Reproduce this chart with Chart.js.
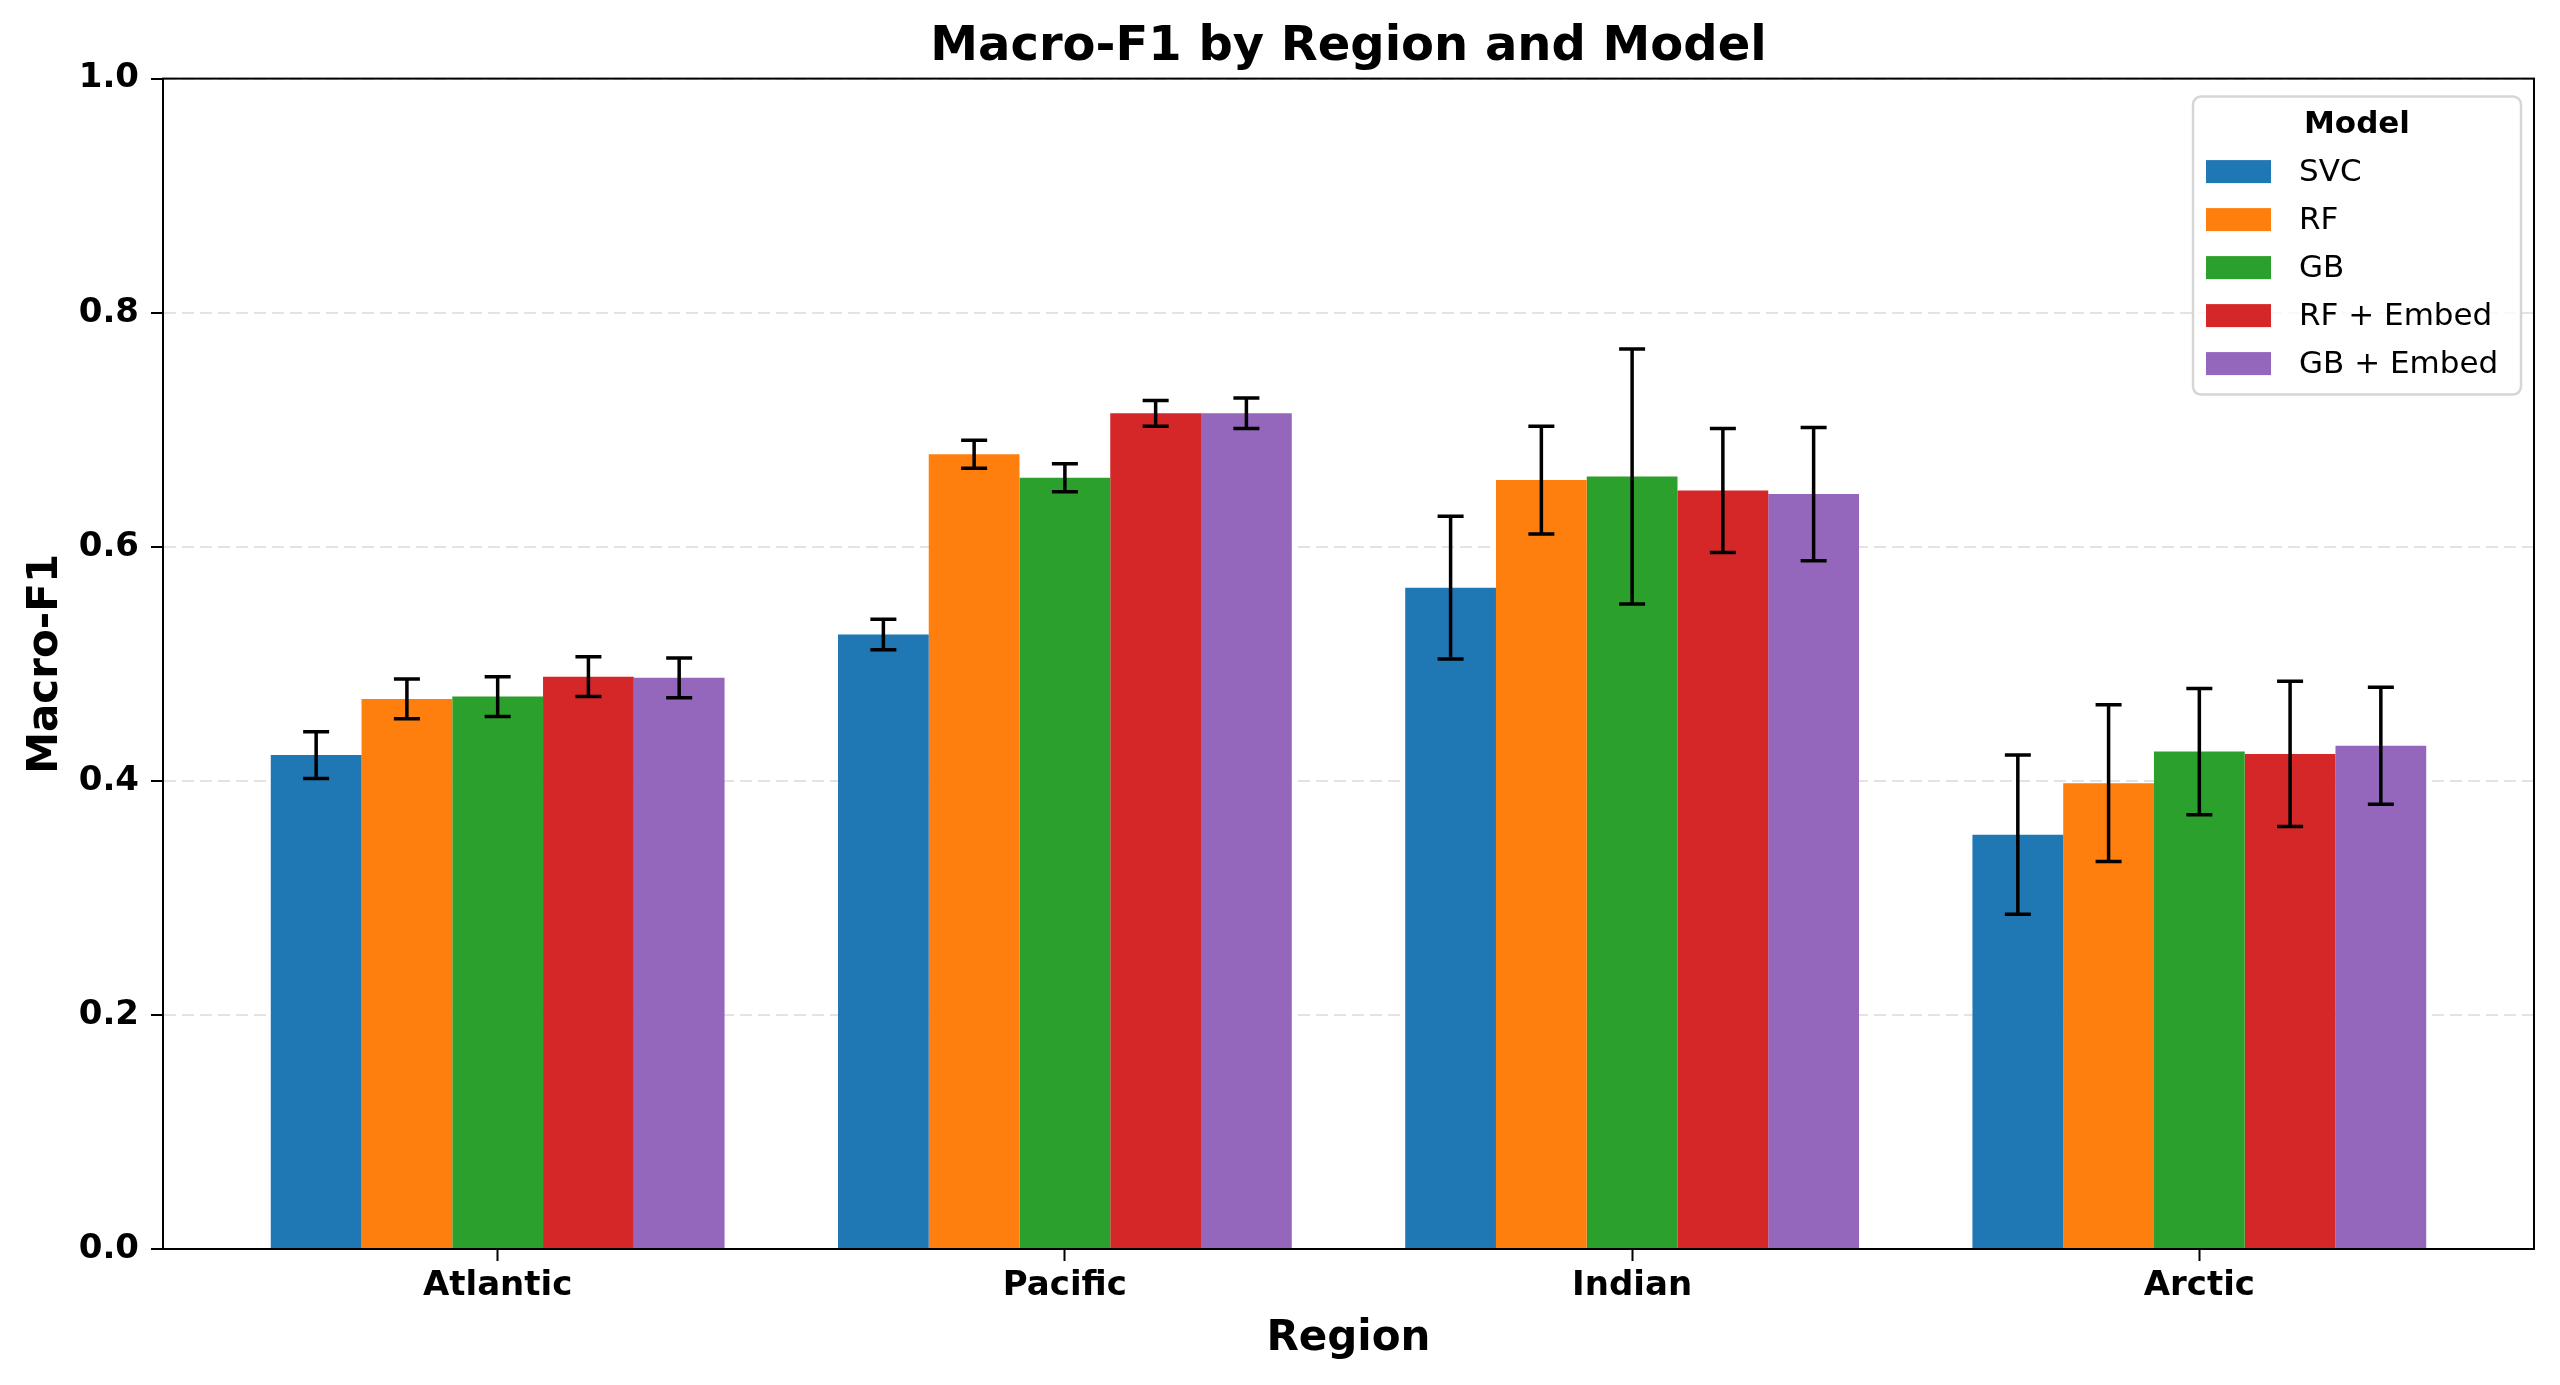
<!DOCTYPE html>
<html lang="en">
  <head>
    <meta charset="utf-8" />
    <title>Macro-F1 by Region and Model</title>
    <style>
      html, body { margin: 0; padding: 0; background: #fff; }
      #wrap { width: 2560px; height: 1385px; }
    </style>
  </head>
  <body>
    <div id="wrap">
      <canvas id="canvas"></canvas>
    </div>

    <script src="https://cdn.jsdelivr.net/npm/chart.js"></script>

    <script>
      const regions = ["Atlantic", "Pacific", "Indian", "Arctic"];
      const models = ["SVC", "RF", "GB", "RF + Embed", "GB + Embed"];
      const colors = ["#1f77b4", "#ff7f0e", "#2ca02c", "#d62728", "#9467bd"];

      // mean Macro-F1 per region, one array per model
      const svc = [0.422, 0.525, 0.565, 0.354];
      const rf = [0.470, 0.679, 0.657, 0.398];
      const gb = [0.472, 0.659, 0.660, 0.425];
      const rfEmbed = [0.489, 0.714, 0.648, 0.423];
      const gbEmbed = [0.488, 0.714, 0.645, 0.430];

      // error bar half-widths
      const svcErr = [0.020, 0.013, 0.061, 0.068];
      const rfErr = [0.017, 0.012, 0.046, 0.067];
      const gbErr = [0.017, 0.012, 0.109, 0.054];
      const rfEmbedErr = [0.017, 0.011, 0.053, 0.062];
      const gbEmbedErr = [0.017, 0.013, 0.057, 0.050];

      const yTicks = [0, 0.2, 0.4, 0.6, 0.8, 1.0];

      const series = [svc, rf, gb, rfEmbed, gbEmbed];
      const errors = [svcErr, rfErr, gbErr, rfEmbedErr, gbEmbedErr];

      const FONT = "'DejaVu Sans', sans-serif";

      const errorBars = {
        id: "errorBars",
        afterDatasetsDraw(chart) {
          const y = chart.scales.y;
          const c = chart.ctx;
          c.save();
          c.strokeStyle = "#000";
          c.lineWidth = 3.5;
          chart.data.datasets.forEach((ds, i) => {
            const meta = chart.getDatasetMeta(i);
            meta.data.forEach((bar, j) => {
              const v = ds.data[j].y;
              const e = errors[i][j];
              const top = y.getPixelForValue(v + e);
              const bot = y.getPixelForValue(v - e);
              c.beginPath();
              c.moveTo(bar.x, top);
              c.lineTo(bar.x, bot);
              c.moveTo(bar.x - 13, top);
              c.lineTo(bar.x + 13, top);
              c.moveTo(bar.x - 13, bot);
              c.lineTo(bar.x + 13, bot);
              c.stroke();
            });
          });
          c.restore();
        },
      };

      // centre the title over the plot area, like an axes title
      const titleOverPlot = {
        id: "titleOverPlot",
        afterLayout(chart) {
          const t = chart.titleBlock;
          const a = chart.chartArea;
          if (!t) return;
          t.left = a.left;
          t.right = a.right;
          t.width = a.right - a.left;
        },
      };

      // axes frame + legend box drawn on top
      const frameAndLegend = {
        id: "frameAndLegend",
        afterDraw(chart) {
          const a = chart.chartArea;
          const c = chart.ctx;
          c.save();
          c.strokeStyle = "#000";
          c.lineWidth = 2;
          c.strokeRect(a.left, a.top, a.right - a.left, a.bottom - a.top);

          const w = 328, h = 298;
          const bx = a.right - 13 - w;
          const by = a.top + 18;
          c.beginPath();
          c.roundRect(bx, by, w, h, 8);
          c.fillStyle = "rgba(255,255,255,0.8)";
          c.fill();
          c.strokeStyle = "#d6d6d6";
          c.lineWidth = 2.5;
          c.stroke();

          c.fillStyle = "#000";
          c.textBaseline = "middle";
          c.textAlign = "center";
          c.font = "bold 31px " + FONT;
          c.fillText("Model", bx + w / 2, by + 28);

          c.textAlign = "left";
          c.font = "31px " + FONT;
          chart.data.datasets.forEach((ds, i) => {
            const ry = by + 75 + i * 48;
            c.fillStyle = ds.backgroundColor;
            c.fillRect(bx + 13, ry - 11.5, 65, 23);
            c.fillStyle = "#000";
            c.fillText(ds.label, bx + 106, ry + 1);
          });
          c.restore();
        },
      };

      new Chart(document.getElementById("canvas"), {
        type: "bar",
        data: {
          datasets: models.map((m, i) => ({
            label: m,
            data: regions.map((r, j) => ({ x: j, y: series[i][j] })),
            backgroundColor: colors[i],
            borderWidth: 0,
            barPercentage: 1.0,
            categoryPercentage: 0.8,
          })),
        },
        options: {
          responsive: true,
          maintainAspectRatio: false,
          animation: false,
          devicePixelRatio: 1,
          layout: { padding: { left: 0, right: 26, top: 0, bottom: 0 } },
          plugins: {
            legend: { display: false },
            tooltip: { enabled: false },
            title: {
              display: true,
              text: "Macro-F1 by Region and Model",
              color: "#000",
              font: { family: FONT, size: 48, weight: "bold" },
              padding: { top: 19, bottom: 2 },
            },
          },
          scales: {
            x: {
              type: "linear",
              min: -0.59,
              max: 3.59,
              offset: false,
              afterBuildTicks(axis) {
                axis.ticks = regions.map((r, i) => ({ value: i }));
              },
              afterFit(axis) {
                axis.height = 136;
              },
              ticks: {
                callback: (v) => regions[v],
                color: "#000",
                font: { family: FONT, size: 34, weight: "bold" },
                padding: 5,
                maxRotation: 0,
              },
              grid: {
                offset: false,
                drawOnChartArea: false,
                drawTicks: true,
                tickLength: 12,
                tickColor: "#000",
                tickWidth: 2,
              },
              border: { display: true, color: "#000", width: 2 },
              title: {
                display: true,
                text: "Region",
                color: "#000",
                font: { family: FONT, size: 42, weight: "bold" },
                padding: { top: 0, bottom: 21 },
              },
            },
            y: {
              min: 0,
              max: 1,
              z: 1,
              afterBuildTicks(axis) {
                axis.ticks = yTicks.map((v) => ({ value: v }));
              },
              afterFit(axis) {
                axis.width = 163;
              },
              ticks: {
                callback: (v) => v.toFixed(1),
                color: "#000",
                font: { family: FONT, size: 34, weight: "bold" },
                padding: 12,
              },
              grid: {
                color: "rgba(176,176,176,0.35)",
                lineWidth: 2,
                drawTicks: true,
                tickLength: 12,
                tickColor: "#000",
                tickWidth: 2,
                tickBorderDash: [],
              },
              border: { display: true, color: "#000", width: 2, dash: [12, 6] },
              title: {
                display: true,
                text: "Macro-F1",
                color: "#000",
                font: { family: FONT, size: 42, weight: "bold" },
                padding: { top: 21, bottom: 0 },
              },
            },
          },
        },
        plugins: [titleOverPlot, errorBars, frameAndLegend],
      });
    </script>
  </body>
</html>
